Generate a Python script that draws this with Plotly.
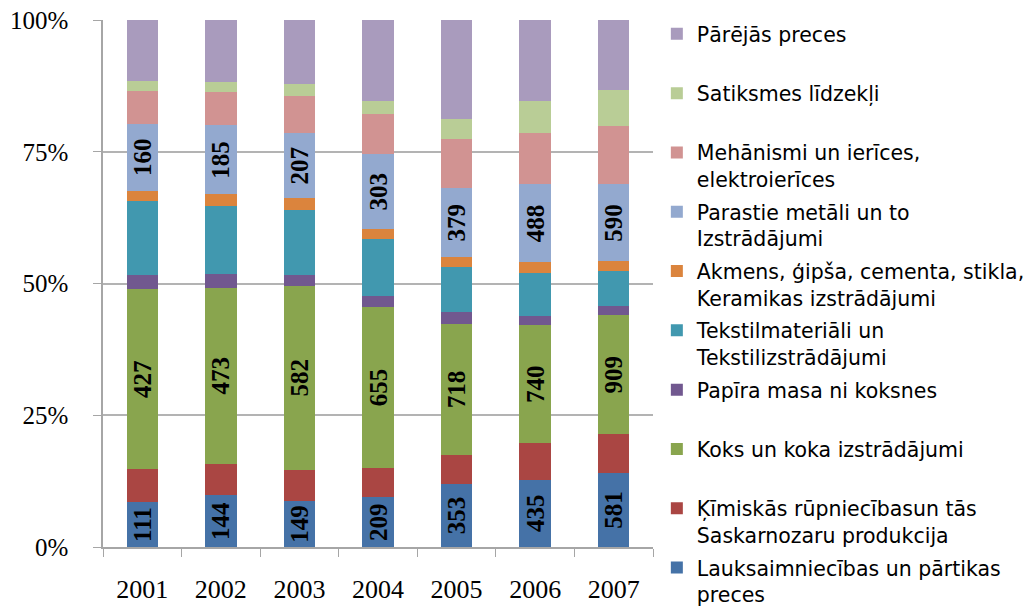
import plotly.graph_objects as go

years = ["2001", "2002", "2003", "2004", "2005", "2006", "2007"]

# Shares of each category in percent, bottom to top
lauksaimn = [8.5, 9.9, 8.7, 9.4, 12.0, 12.8, 14.0]
kimiskas = [6.3, 5.9, 5.9, 5.6, 5.5, 6.9, 7.4]
koks = [34.1, 33.4, 35.0, 30.5, 24.8, 22.4, 22.6]
papira = [2.7, 2.6, 2.0, 2.2, 2.2, 1.7, 1.7]
tekstil = [14.1, 12.9, 12.4, 10.7, 8.6, 8.1, 6.6]
akmens = [1.9, 2.2, 2.2, 1.9, 1.9, 2.1, 1.9]
metali = [12.7, 13.1, 12.3, 14.2, 13.1, 14.8, 14.6]
mehanismi = [6.3, 6.3, 7.1, 7.7, 9.3, 9.8, 11.0]
satiksmes = [1.9, 2.0, 2.3, 2.4, 3.8, 6.0, 7.0]
parejas = [11.5, 11.7, 12.1, 15.4, 18.8, 15.4, 13.2]

# Value labels shown inside bars
lbl_lauksaimn = ["111", "144", "149", "209", "353", "435", "581"]
lbl_koks = ["427", "473", "582", "655", "718", "740", "909"]
lbl_metali = ["160", "185", "207", "303", "379", "488", "590"]

series = [
    ("Lauksaimniecības un pārtikas<br>preces", lauksaimn, "#4572A7", lbl_lauksaimn),
    ("Ķīmiskās rūpniecībasun tās<br>Saskarnozaru produkcija", kimiskas, "#AA4643", None),
    ("Koks un koka izstrādājumi<br> ", koks, "#89A54E", lbl_koks),
    ("Papīra masa ni koksnes<br> ", papira, "#71588F", None),
    ("Tekstilmateriāli un<br>Tekstilizstrādājumi", tekstil, "#4198AF", None),
    ("Akmens, ģipša, cementa, stikla,<br>Keramikas izstrādājumi", akmens, "#DB843D", None),
    ("Parastie metāli un to<br>Izstrādājumi", metali, "#93A9CF", lbl_metali),
    ("Mehānismi un ierīces,<br>elektroierīces", mehanismi, "#D19392", None),
    ("Satiksmes līdzekļi<br> ", satiksmes, "#B9CD96", None),
    ("Pārējās preces<br> ", parejas, "#A99BBD", None),
]

fig = go.Figure()
for i, (name, vals, color, labels) in enumerate(series):
    fig.add_trace(go.Bar(
        x=years, y=vals, name=name,
        marker=dict(color=color, line=dict(width=0)),
        legendgroup=f"g{i}",
        legendrank=100 - i,
        text=labels if labels else None,
        textposition="inside" if labels else "none",
        insidetextanchor="middle",
        textangle=-90,
        textfont=dict(family="Liberation Serif", size=25, color="black", weight="bold"),
        hoverinfo="skip",
    ))

# plot area: x 103..653, y 20..547 of a 1036x612 page
fig.update_layout(
    barmode="stack",
    bargap=0.6,
    width=1036, height=612,
    margin=dict(l=103, r=383, t=20, b=65, autoexpand=False),
    plot_bgcolor="white", paper_bgcolor="white",
    uniformtext=dict(minsize=25, mode="show"),
    showlegend=True,
    legend=dict(
        x=1.007, xanchor="left",
        yref="container", y=1 - 14 / 612, yanchor="top",
        maxheight=605,
        traceorder="grouped",
        tracegroupgap=3,
        valign="top",
        font=dict(family="DejaVu Sans", size=20.5, color="black"),
        itemwidth=30,
    ),
)
fig.update_xaxes(
    type="category",
    automargin=False,
    showline=True, linecolor="#A6A6A6", linewidth=1.5,
    ticks="outside", tickson="boundaries", ticklen=8, tickcolor="#A6A6A6",
    tickfont=dict(family="Liberation Serif", size=26, color="black"),
    ticklabelstandoff=18,
    showgrid=False,
)
fig.update_yaxes(
    automargin=False,
    range=[0, 100],
    tickvals=[0, 25, 50, 75, 100],
    ticktext=["0%", "25%", "50%", "75%", "100%"],
    showline=True, linecolor="#A6A6A6", linewidth=1.5,
    ticks="outside", ticklen=8, tickcolor="#A6A6A6",
    tickfont=dict(family="Liberation Serif", size=25, color="black"),
    ticklabelstandoff=20,
    showgrid=True, gridcolor="#B3B3B3", gridwidth=1.5,
    zeroline=False,
)

fig.write_html("out.html", config={"displayModeBar": False},
               post_script="document.body.style.margin='0';")
